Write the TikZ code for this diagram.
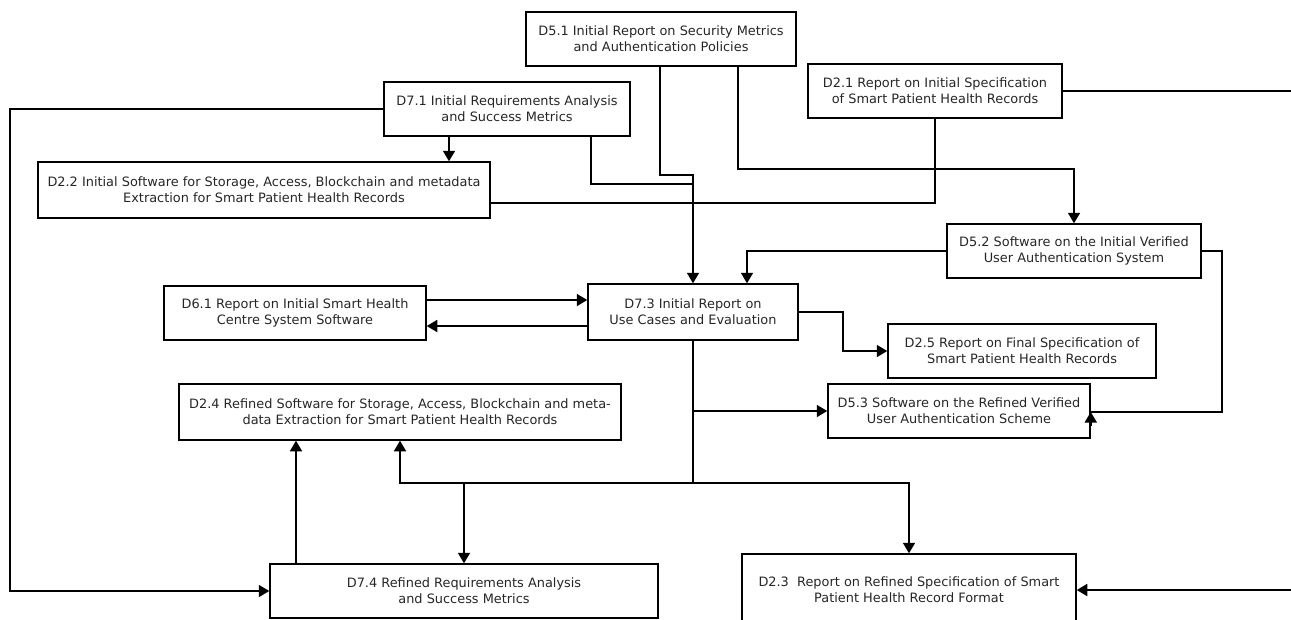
\documentclass[tikz,border=0pt]{standalone}
\usepackage{fontspec}
\setmainfont{DejaVu Sans}
\usetikzlibrary{arrows.meta}
\tikzset{
  box/.style={draw, line width=1.5pt, inner sep=0pt, align=center,
    font=\fontsize{12.9}{15.7}\selectfont, text=black!85},
  conn/.style={line width=1.8pt},
  arr/.style={conn, -{Triangle[length=10.5pt,width=12pt]}},
}
\begin{document}
\begin{tikzpicture}[x=1pt,y=-1pt]
\useasboundingbox (0,0) rectangle (1291,619);
% boxes
\node[box, minimum width=270pt, minimum height=54pt] (D51) at (661,39) {D5.1 Initial Report on Security Metrics\\and Authentication Policies};
\node[box, minimum width=246pt, minimum height=54pt] (D71) at (507,109) {D7.1 Initial Requirements Analysis\\and Success Metrics};
\node[box, minimum width=254pt, minimum height=54pt] (D21) at (935,91) {D2.1 Report on Initial Specification\\of Smart Patient Health Records};
\node[box, minimum width=452pt, minimum height=56pt] (D22) at (264,190) {D2.2 Initial Software for Storage, Access, Blockchain and metadata\\Extraction for Smart Patient Health Records};
\node[box, minimum width=254pt, minimum height=54pt] (D52) at (1074,251) {D5.2 Software on the Initial Verified\\User Authentication System};
\node[box, minimum width=262pt, minimum height=54pt] (D61) at (295,313) {D6.1 Report on Initial Smart Health\\Centre System Software};
\node[box, minimum width=210pt, minimum height=56pt] (D73) at (693,312) {D7.3 Initial Report on\\Use Cases and Evaluation};
\node[box, minimum width=268pt, minimum height=54pt] (D25) at (1022,351) {D2.5 Report on Final Specification of\\Smart Patient Health Records};
\node[box, minimum width=442pt, minimum height=56pt] (D24) at (400,412) {D2.4 Refined Software for Storage, Access, Blockchain and meta-\\data Extraction for Smart Patient Health Records};
\node[box, minimum width=262pt, minimum height=54pt] (D53) at (959,411) {D5.3 Software on the Refined Verified\\User Authentication Scheme};
\node[box, minimum width=388pt, minimum height=54pt] (D74) at (464,591) {D7.4 Refined Requirements Analysis\\and Success Metrics};
\node[box, minimum width=334pt, minimum height=72pt] (D23) at (909,590) {D2.3\ \ Report on Refined Specification of Smart\\Patient Health Record Format};
% connectors
\coordinate (J) at (693,483);
\draw[arr] (D71.south -| 449,0) -- (D22.north -| 449,0);
\draw[arr] (D71.west) -- (10,109) |- (D74.west);
\draw[conn] (D71.south -| 591,0) |- (693,184);
\draw[arr] (D51.south -| 660,0) |- (693,175) -- (D73.north);
\draw[arr] (D51.south -| 738,0) |- (1074,169) -- (D52.north);
\draw[conn] (D21.south) |- (D22.east |- 0,203);
\draw[arr] (D21.east) -| (1300,300) |- (D23.east);
\draw[arr] (D52.west) -| (D73.north -| 747,0);
\draw[conn] (D52.east) -| (1222,412) -- (D53.east |- 0,412);
\draw[arr] (D53.east |- 0,426) -- (D53.east |- 0,412);
\draw[arr] (D61.east |- 0,300) -- (D73.west |- 0,300);
\draw[arr] (D73.west |- 0,326) -- (D61.east |- 0,326);
\draw[arr] (D73.east) -| (843,351) -- (D25.west);
\draw[conn] (D73.south) -- (J);
\draw[arr] (D73.south |- D53.west) -- (D53.west);
\draw[arr] (J) -| (D24.south);
\draw[arr] (D74.north |- J) -- (D74.north);
\draw[arr] (J) -| (D23.north);
\draw[arr] (D74.north -| 296,0) -- (D24.south -| 296,0);
\end{tikzpicture}
\end{document}
